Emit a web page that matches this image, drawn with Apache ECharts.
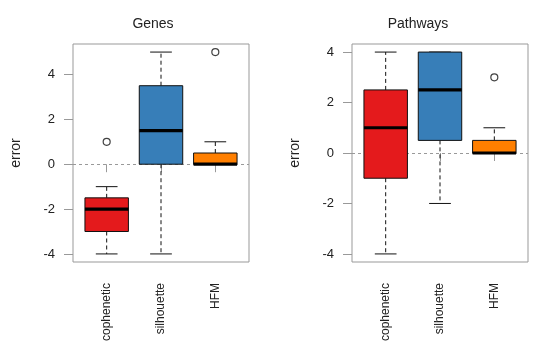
<!DOCTYPE html>
<html>
<head>
<meta charset="utf-8">
<script src="https://cdn.jsdelivr.net/npm/echarts@6/dist/echarts.min.js"></script>
<style>html,body{margin:0;padding:0;background:#fff}#c{width:550px;height:355px}</style>
</head>
<body>
<div id="c"></div>
<script>
const categories = ['cophenetic', 'silhouette', 'HFM'];
const colors = ['#E41A1C', '#377EB8', '#FF7F00'];
// [min, Q1, median, Q3, max]
const genesBox = [[-4, -3, -2, -1.5, -1], [-4, 0, 1.5, 3.5, 5], [0, 0, 0, 0.5, 1]];
const genesOutliers = [[0, 1], [2, 5]];
const pathwaysBox = [[-4, -1, 1, 2.5, 4], [-2, 0.5, 2.5, 4, 4], [0, 0, 0, 0.5, 1]];
const pathwaysOutliers = [[2, 3]];
const yTicks = [-4, -2, 0, 2, 4];
const panelTitles = ['Genes', 'Pathways'];

const chart = echarts.init(document.getElementById('c'));
const FONT = 'Liberation Sans';

function yRange(box, outl) {
  let lo = Infinity, hi = -Infinity;
  box.forEach(b => { lo = Math.min(lo, b[0]); hi = Math.max(hi, b[4]); });
  outl.forEach(o => { lo = Math.min(lo, o[1]); hi = Math.max(hi, o[1]); });
  const pad = (hi - lo) * 0.04;
  return [lo - pad, hi + pad];
}

function renderBox(params, api) {
  const x = api.value(0);
  const mn = api.value(1), q1 = api.value(2), md = api.value(3), q3 = api.value(4), mx = api.value(5);
  const idx = params.dataIndex;
  const bw = 0.8, cw = 0.4;
  const pMin = api.coord([x, mn]), pQ1 = api.coord([x, q1]), pMd = api.coord([x, md]);
  const pQ3 = api.coord([x, q3]), pMax = api.coord([x, mx]);
  const left = api.coord([x - bw / 2, md])[0], right = api.coord([x + bw / 2, md])[0];
  const cl = api.coord([x - cw / 2, md])[0], cr = api.coord([x + cw / 2, md])[0];
  const black = '#111';
  const children = [];
  if (mx > q3) children.push({type: 'line', shape: {x1: pQ3[0], y1: pQ3[1], x2: pMax[0], y2: pMax[1]}, style: {stroke: black, lineWidth: 1, lineDash: [4, 3]}});
  if (mn < q1) children.push({type: 'line', shape: {x1: pQ1[0], y1: pQ1[1], x2: pMin[0], y2: pMin[1]}, style: {stroke: black, lineWidth: 1, lineDash: [4, 3]}});
  children.push({type: 'line', shape: {x1: cl, y1: pMax[1], x2: cr, y2: pMax[1]}, style: {stroke: black, lineWidth: 1}});
  children.push({type: 'line', shape: {x1: cl, y1: pMin[1], x2: cr, y2: pMin[1]}, style: {stroke: black, lineWidth: 1}});
  children.push({type: 'rect', shape: {x: left, y: pQ3[1], width: right - left, height: pQ1[1] - pQ3[1]}, style: {fill: colors[idx], stroke: black, lineWidth: 1}});
  children.push({type: 'line', shape: {x1: left, y1: pMd[1], x2: right, y2: pMd[1]}, style: {stroke: '#000', lineWidth: 3.2}});
  return {type: 'group', children: children};
}

const grids = [
  {left: 73, top: 44, width: 176, height: 218, show: true, borderColor: '#999', borderWidth: 1, backgroundColor: 'transparent'},
  {left: 352, top: 44, width: 176, height: 218, show: true, borderColor: '#999', borderWidth: 1, backgroundColor: 'transparent'}
];
const panels = [[genesBox, genesOutliers], [pathwaysBox, pathwaysOutliers]];

const xAxes = [], yAxes = [], series = [];
panels.forEach((p, gi) => {
  const [lo, hi] = yRange(p[0], p[1]);
  xAxes.push({
    type: 'value', gridIndex: gi, min: 0.38, max: 3.62,
    axisLine: {show: false}, splitLine: {show: false},
    axisTick: {show: true, length: 8, lineStyle: {color: '#999'}, customValues: [1, 2, 3]},
    axisLabel: {customValues: [1, 2, 3], rotate: 90, margin: 21, fontFamily: FONT, fontSize: 12, color: '#222',
      formatter: v => categories[Math.round(v) - 1] || ''}
  });
  yAxes.push({
    type: 'value', gridIndex: gi, min: lo, max: hi,
    name: 'error', nameLocation: 'middle', nameGap: 50, nameRotate: 90,
    nameTextStyle: {fontFamily: FONT, fontSize: 14, color: '#222'},
    axisLine: {show: false}, splitLine: {show: false},
    axisTick: {show: true, length: 9, lineStyle: {color: '#999'}, customValues: yTicks},
    axisLabel: {customValues: yTicks, margin: 18, fontFamily: FONT, fontSize: 13, color: '#222'}
  });
  series.push({
    type: 'custom', xAxisIndex: gi, yAxisIndex: gi,
    renderItem: renderBox,
    encode: {x: 0, y: [1, 2, 3, 4, 5]},
    data: p[0].map((b, i) => [i + 1].concat(b)),
    z: 3,
    markLine: {
      silent: true, symbol: 'none', label: {show: false},
      lineStyle: {color: '#999', type: [3, 3], width: 1},
      data: [{yAxis: 0}], z: 1
    }
  });
  series.push({
    type: 'scatter', xAxisIndex: gi, yAxisIndex: gi,
    symbol: 'circle', symbolSize: 7,
    itemStyle: {color: '#fff', borderColor: '#111', borderWidth: 1.2},
    data: p[1].map(o => [o[0] + 1, o[1]]), z: 4
  });
});

chart.setOption({
  animation: false,
  grid: grids,
  xAxis: xAxes,
  yAxis: yAxes,
  series: series,
  graphic: [
    {type: 'text', x: 153, y: 24, style: {text: panelTitles[0], font: '14px "Liberation Sans"', fill: '#222', align: 'center', verticalAlign: 'middle'}},
    {type: 'text', x: 418, y: 24, style: {text: panelTitles[1], font: '14px "Liberation Sans"', fill: '#222', align: 'center', verticalAlign: 'middle'}}
  ]
});
</script>
</body>
</html>
